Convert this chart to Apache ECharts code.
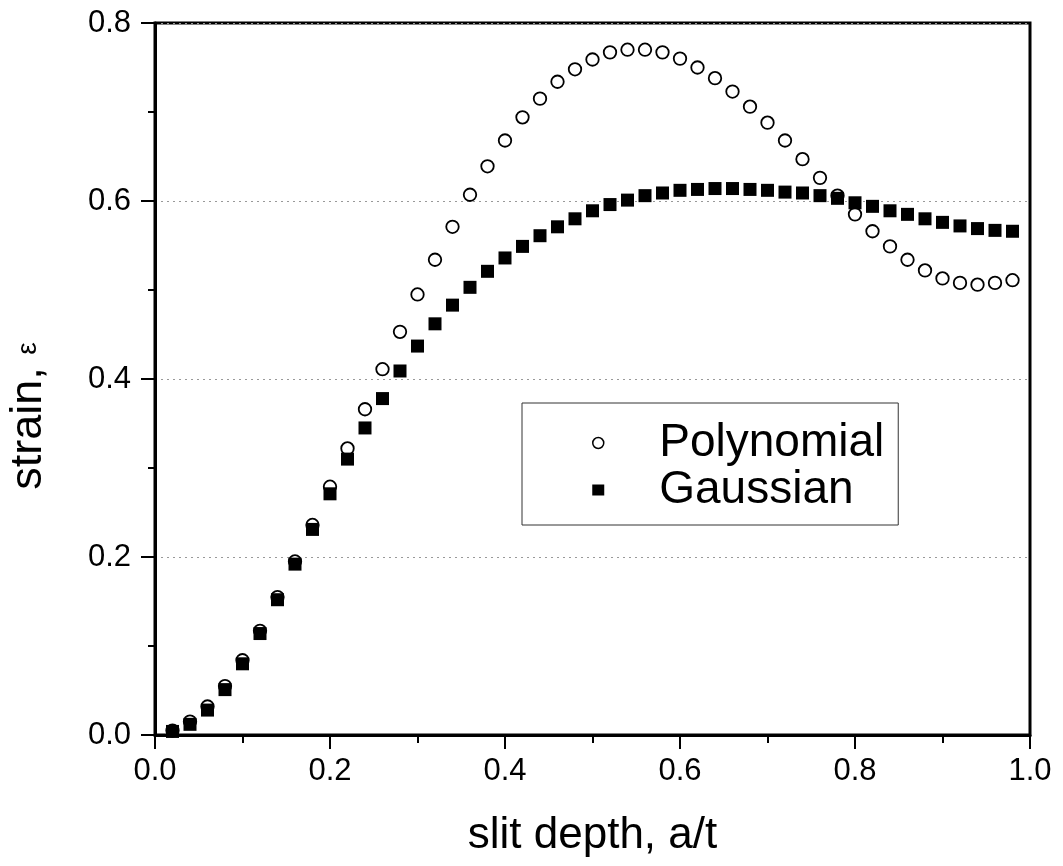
<!DOCTYPE html>
<html>
<head>
<meta charset="utf-8">
<script src="https://cdn.jsdelivr.net/npm/echarts@6/dist/echarts.min.js"></script>
<style>
html, body { margin: 0; padding: 0; background: #fff; }
#box { width: 1063px; height: 866px; }
</style>
</head>
<body>
<div id="box"></div>
<script>
// slit depth a/t
var depth = [0.02, 0.04, 0.06, 0.08, 0.10, 0.12, 0.14, 0.16, 0.18, 0.20,
             0.22, 0.24, 0.26, 0.28, 0.30, 0.32, 0.34, 0.36, 0.38, 0.40,
             0.42, 0.44, 0.46, 0.48, 0.50, 0.52, 0.54, 0.56, 0.58, 0.60,
             0.62, 0.64, 0.66, 0.68, 0.70, 0.72, 0.74, 0.76, 0.78, 0.80,
             0.82, 0.84, 0.86, 0.88, 0.90, 0.92, 0.94, 0.96, 0.98];
var polynomial = [0.005, 0.015, 0.032, 0.055, 0.084, 0.117, 0.155, 0.195, 0.236, 0.279,
                  0.322, 0.366, 0.411, 0.453, 0.495, 0.534, 0.571, 0.607, 0.639, 0.668,
                  0.694, 0.715, 0.734, 0.748, 0.759, 0.767, 0.770, 0.770, 0.767, 0.760,
                  0.750, 0.738, 0.723, 0.706, 0.688, 0.668, 0.647, 0.626, 0.606, 0.585,
                  0.566, 0.549, 0.534, 0.522, 0.513, 0.508, 0.506, 0.508, 0.511];
var gaussian = [0.004, 0.012, 0.028, 0.051, 0.080, 0.114, 0.152, 0.192, 0.231, 0.271,
                0.310, 0.345, 0.378, 0.409, 0.437, 0.462, 0.483, 0.503, 0.521, 0.536,
                0.549, 0.561, 0.571, 0.580, 0.589, 0.596, 0.601, 0.606, 0.609, 0.612,
                0.613, 0.614, 0.614, 0.613, 0.612, 0.610, 0.609, 0.606, 0.603, 0.598,
                0.594, 0.589, 0.585, 0.580, 0.576, 0.572, 0.569, 0.567, 0.566];
var seriesNames = ['Polynomial', 'Gaussian'];

function pairs(xs, ys) {
    return xs.map(function (x, i) { return [x, ys[i]]; });
}

var font = '"Liberation Sans", Arial, sans-serif';
var myChart = echarts.init(document.getElementById('box'));
var option = {
    backgroundColor: '#fff',
    animation: false,
    grid: {
        left: 155,
        right: 33,
        top: 23,
        bottom: 131,
        outerBoundsMode: 'none',
        show: true,
        borderColor: '#000',
        borderWidth: 3
    },
    legend: {
        orient: 'vertical',
        left: 522,
        top: 403,
        padding: [17, 14, 12, 70],
        itemGap: 1,
        itemWidth: 12,
        itemHeight: 11,
        borderColor: '#333',
        borderWidth: 1,
        backgroundColor: '#fff',
        textStyle: {
            fontSize: 46, lineHeight: 46, color: '#000', fontFamily: font,
            padding: [0, 0, 0, 50]
        },
        data: [
            { name: seriesNames[0], icon: 'circle',
              itemStyle: { color: '#fff', borderColor: '#000', borderWidth: 1.5 } },
            { name: seriesNames[1], icon: 'rect',
              itemStyle: { color: '#000', borderWidth: 0 } }
        ]
    },
    xAxis: {
        type: 'value',
        min: 0,
        max: 1,
        interval: 0.2,
        name: 'slit depth, a/t',
        nameLocation: 'middle',
        nameGap: 79,
        nameTextStyle: { fontSize: 44, lineHeight: 44, color: '#000', fontFamily: font },
        axisLine: { lineStyle: { color: '#000', width: 3 } },
        axisTick: { length: 14, lineStyle: { color: '#000', width: 2 } },
        minorTick: { show: true, splitNumber: 2, length: 8, lineStyle: { color: '#000', width: 2 } },
        axisLabel: {
            margin: 21,
            fontSize: 31,
            lineHeight: 31,
            color: '#000',
            fontFamily: font,
            formatter: function (v) { return v.toFixed(1); }
        },
        splitLine: { show: false }
    },
    yAxis: {
        type: 'value',
        min: 0,
        max: 0.8,
        interval: 0.2,
        name: '{a|strain, }{b|ε}',
        nameLocation: 'middle',
        nameRotate: 90,
        nameGap: 104,
        nameTextStyle: {
            color: '#000',
            padding: [0, 74, 0, 0],
            rich: {
                a: { fontSize: 45, fontFamily: font, color: '#000' },
                b: { fontSize: 28, fontFamily: font, color: '#000' }
            }
        },
        axisLine: { lineStyle: { color: '#000', width: 3 } },
        axisTick: { length: 14, lineStyle: { color: '#000', width: 2 } },
        minorTick: { show: true, splitNumber: 2, length: 7, lineStyle: { color: '#000', width: 2 } },
        axisLabel: {
            margin: 24,
            fontSize: 31,
            color: '#000',
            fontFamily: font,
            formatter: function (v) { return v.toFixed(1); }
        },
        splitLine: { show: true, lineStyle: { color: '#999', width: 1, type: [2, 4] } }
    },
    series: [
        {
            name: seriesNames[0],
            type: 'scatter',
            symbol: 'circle',
            symbolSize: 12.5,
            itemStyle: { color: '#fff', borderColor: '#000', borderWidth: 1.8, opacity: 1 },
            data: pairs(depth, polynomial)
        },
        {
            name: seriesNames[1],
            type: 'scatter',
            symbol: 'rect',
            symbolSize: 13,
            itemStyle: { color: '#000', opacity: 1 },
            data: pairs(depth, gaussian)
        }
    ]
};
myChart.setOption(option);
</script>
</body>
</html>
